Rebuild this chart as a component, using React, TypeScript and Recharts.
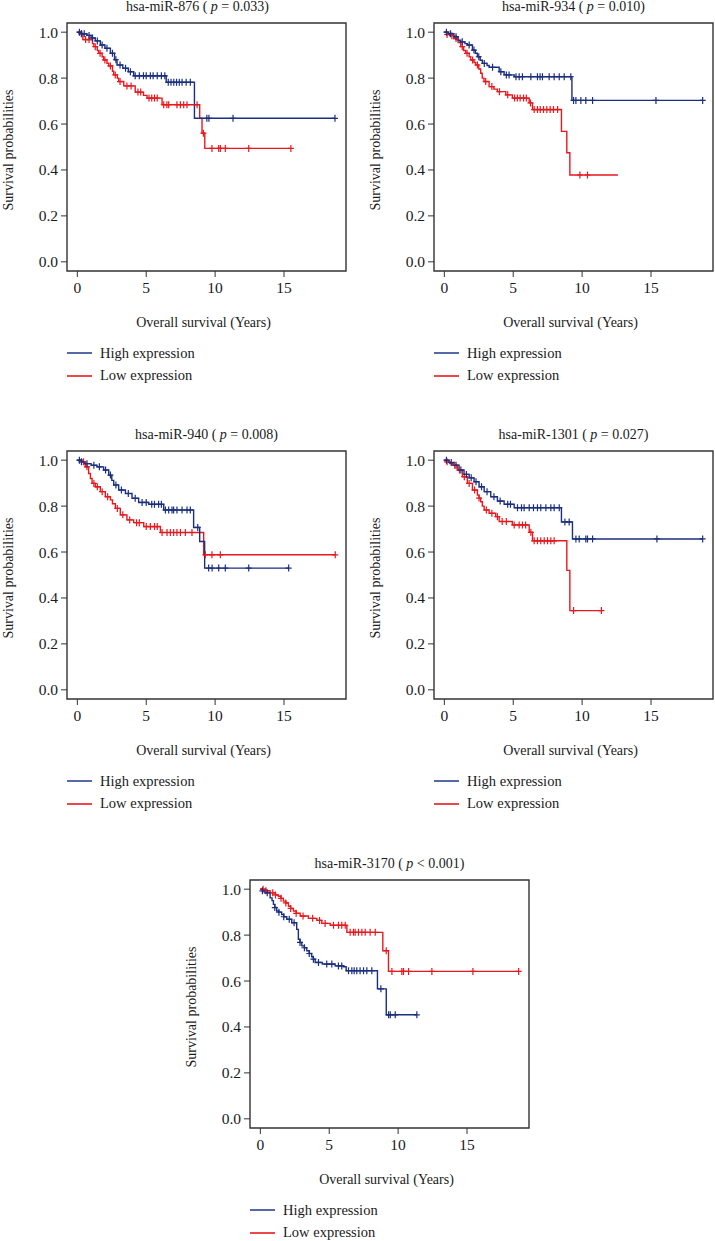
import React from 'react';
import { LineChart, Line, XAxis, YAxis, ReferenceArea } from 'recharts';

// [time (years), survival, censored?]
type Pt = [number, number, number?];

const X_TICKS = [0, 5, 10, 15];
const Y_TICKS = [0, 0.2, 0.4, 0.6, 0.8, 1.0];
const X_DOMAIN: [number, number] = [-0.75, 19.5];
const Y_DOMAIN: [number, number] = [-0.04, 1.04];

const HIGH_COLOR = '#1b2f80';
const LOW_COLOR = '#e8191e';

const mir876High: Pt[] = [
  [0, 1], [0.15, 1, 1], [0.3, 0.993, 1], [0.5, 0.993, 1], [0.7, 0.986], [0.85, 0.986, 1], [1.0, 0.975], [1.1, 0.975, 1],
  [1.3, 0.962], [1.45, 0.962, 1], [1.67, 0.944], [1.8, 0.944, 1], [2.0, 0.93], [2.15, 0.93, 1], [2.4, 0.908], [2.55, 0.908, 1],
  [2.7, 0.88], [2.8, 0.88, 1], [2.88, 0.857], [3.1, 0.857, 1], [3.3, 0.843], [3.5, 0.843, 1], [3.7, 0.828], [3.85, 0.828, 1],
  [4.09, 0.81], [4.2, 0.81, 1], [4.5, 0.81, 1], [4.8, 0.81, 1], [5.0, 0.81, 1], [5.3, 0.81, 1], [5.5, 0.81, 1], [5.8, 0.81, 1],
  [6.1, 0.81, 1], [6.35, 0.81, 1], [6.45, 0.782], [6.6, 0.782, 1], [6.8, 0.782, 1], [7.0, 0.782, 1], [7.2, 0.782, 1],
  [7.4, 0.782, 1], [7.6, 0.782, 1], [7.9, 0.782, 1], [8.2, 0.782, 1], [8.5, 0.625], [9.4, 0.625, 1], [9.55, 0.625, 1],
  [11.3, 0.625, 1], [18.7, 0.625, 1],
];
const mir876Low: Pt[] = [
  [0, 1], [0.22, 0.994], [0.3, 0.994, 1], [0.4, 0.968], [0.6, 0.968, 1], [0.85, 0.968, 1], [1.1, 0.95], [1.2, 0.937],
  [1.3, 0.937, 1], [1.45, 0.92], [1.55, 0.908], [1.65, 0.908, 1], [1.8, 0.893], [1.91, 0.879], [2.0, 0.879, 1], [2.15, 0.865],
  [2.28, 0.853], [2.4, 0.853, 1], [2.55, 0.83], [2.64, 0.814], [2.75, 0.814, 1], [2.9, 0.8], [3.0, 0.785], [3.1, 0.785, 1],
  [3.37, 0.766], [3.6, 0.766, 1], [3.9, 0.766, 1], [4.2, 0.739], [4.4, 0.739, 1], [4.6, 0.739, 1], [4.8, 0.725], [5.06, 0.713],
  [5.2, 0.713, 1], [5.4, 0.713, 1], [5.6, 0.713, 1], [5.8, 0.713, 1], [6.15, 0.684], [6.27, 0.684, 1], [6.5, 0.684, 1],
  [6.63, 0.684, 1], [7.23, 0.684, 1], [7.48, 0.684, 1], [7.72, 0.684, 1], [7.96, 0.684, 1], [8.69, 0.684, 1], [8.88, 0.625],
  [9.05, 0.56], [9.15, 0.56, 1], [9.25, 0.494], [9.77, 0.494, 1], [10.26, 0.494, 1], [10.38, 0.494, 1], [10.74, 0.494, 1],
  [12.44, 0.494, 1], [15.5, 0.494, 1],
];

const mir934High: Pt[] = [
  [0, 1], [0.15, 1, 1], [0.3, 0.993], [0.45, 0.993, 1], [0.7, 0.98], [0.85, 0.98, 1], [1.0, 0.965], [1.19, 0.958],
  [1.3, 0.958, 1], [1.5, 0.95], [1.67, 0.944], [1.8, 0.944, 1], [2.04, 0.922], [2.15, 0.922, 1], [2.25, 0.908], [2.4, 0.893],
  [2.5, 0.893, 1], [2.6, 0.878], [2.76, 0.864], [2.9, 0.864, 1], [3.1, 0.855], [3.25, 0.847], [3.5, 0.847, 1], [3.98, 0.828],
  [4.1, 0.828, 1], [4.34, 0.814], [4.5, 0.814, 1], [4.7, 0.814, 1], [5.07, 0.806], [5.2, 0.806, 1], [5.43, 0.806, 1],
  [5.67, 0.806, 1], [6.28, 0.806, 1], [6.76, 0.806, 1], [6.95, 0.806, 1], [7.12, 0.806, 1], [7.61, 0.806, 1], [7.97, 0.806, 1],
  [8.34, 0.806, 1], [8.7, 0.806, 1], [9.18, 0.806, 1], [9.26, 0.703], [9.38, 0.703, 1], [9.55, 0.703, 1], [9.91, 0.703, 1],
  [10.27, 0.703, 1], [10.76, 0.703, 1], [15.36, 0.703, 1], [18.75, 0.703, 1],
];
const mir934Low: Pt[] = [
  [0, 1], [0.2, 0.99, 1], [0.4, 0.985], [0.55, 0.985, 1], [0.7, 0.972], [0.85, 0.972, 1], [1.0, 0.955], [1.19, 0.937],
  [1.3, 0.937, 1], [1.4, 0.92], [1.55, 0.908], [1.65, 0.908, 1], [1.8, 0.893], [1.92, 0.879], [2.05, 0.879, 1], [2.15, 0.868],
  [2.28, 0.857], [2.4, 0.857, 1], [2.5, 0.84], [2.64, 0.821], [2.75, 0.8], [2.88, 0.785], [3.0, 0.785, 1], [3.25, 0.763],
  [3.45, 0.763, 1], [3.6, 0.752], [3.85, 0.741], [4.0, 0.741, 1], [4.46, 0.727], [4.6, 0.727, 1], [4.94, 0.713],
  [5.1, 0.713, 1], [5.3, 0.713, 1], [5.5, 0.713, 1], [5.75, 0.713, 1], [5.95, 0.713, 1], [6.16, 0.692], [6.25, 0.692, 1],
  [6.4, 0.663], [6.52, 0.663, 1], [6.76, 0.663, 1], [6.96, 0.663, 1], [7.2, 0.663, 1], [7.44, 0.663, 1], [7.68, 0.663, 1],
  [7.92, 0.663, 1], [8.22, 0.663, 1], [8.5, 0.568], [8.89, 0.475], [9.11, 0.378], [9.84, 0.378, 1], [10.39, 0.378, 1],
  [12.6, 0.378],
];

const mir940High: Pt[] = [
  [0, 1], [0.15, 1, 1], [0.3, 0.993, 1], [0.5, 0.985], [0.7, 0.985, 1], [1.0, 0.978], [1.2, 0.978, 1], [1.43, 0.971],
  [1.6, 0.971, 1], [1.91, 0.957], [2.05, 0.957, 1], [2.28, 0.935], [2.4, 0.935, 1], [2.5, 0.912], [2.64, 0.892],
  [2.8, 0.892, 1], [3.0, 0.87], [3.2, 0.87, 1], [3.49, 0.855], [3.7, 0.855, 1], [3.97, 0.834], [4.2, 0.834, 1], [4.45, 0.816],
  [4.7, 0.816, 1], [5.0, 0.816, 1], [5.18, 0.808], [5.4, 0.808, 1], [5.6, 0.808, 1], [5.9, 0.808, 1], [6.1, 0.808, 1],
  [6.27, 0.783], [6.39, 0.783, 1], [6.63, 0.783, 1], [6.87, 0.783, 1], [6.99, 0.783, 1], [7.23, 0.783, 1], [7.6, 0.783, 1],
  [7.96, 0.783, 1], [8.2, 0.783, 1], [8.44, 0.707], [8.74, 0.707, 1], [8.88, 0.646], [9.24, 0.53], [9.53, 0.53, 1],
  [9.78, 0.53, 1], [10.26, 0.53, 1], [10.74, 0.53, 1], [12.44, 0.53, 1], [15.34, 0.53, 1],
];
const mir940Low: Pt[] = [
  [0, 1], [0.34, 0.993], [0.45, 0.993, 1], [0.58, 0.971], [0.7, 0.971, 1], [0.82, 0.942], [0.95, 0.92], [1.07, 0.899],
  [1.2, 0.899, 1], [1.31, 0.884], [1.45, 0.884, 1], [1.67, 0.863], [1.8, 0.863, 1], [2.03, 0.841], [2.2, 0.841, 1],
  [2.4, 0.827], [2.55, 0.81], [2.76, 0.79], [2.9, 0.79, 1], [3.12, 0.762], [3.3, 0.762, 1], [3.6, 0.74], [3.8, 0.74, 1],
  [4.09, 0.728], [4.3, 0.728, 1], [4.5, 0.728, 1], [4.82, 0.711], [5.0, 0.711, 1], [5.3, 0.711, 1], [5.6, 0.711, 1],
  [5.8, 0.711, 1], [6.03, 0.685], [6.15, 0.685, 1], [6.51, 0.685, 1], [6.75, 0.685, 1], [6.99, 0.685, 1], [7.23, 0.685, 1],
  [7.48, 0.685, 1], [7.84, 0.685, 1], [8.32, 0.685, 1], [9.17, 0.588], [9.29, 0.588, 1], [9.77, 0.588, 1],
  [10.38, 0.588, 1], [18.72, 0.588, 1],
];

const mir1301High: Pt[] = [
  [0, 1], [0.15, 1, 1], [0.35, 0.99], [0.5, 0.99, 1], [0.7, 0.978], [0.85, 0.978, 1], [1.07, 0.957], [1.2, 0.957, 1],
  [1.43, 0.938], [1.6, 0.938, 1], [1.8, 0.923], [1.95, 0.923, 1], [2.16, 0.906], [2.3, 0.906, 1], [2.52, 0.884],
  [2.7, 0.884, 1], [2.89, 0.863], [3.1, 0.863, 1], [3.37, 0.841], [3.6, 0.841, 1], [3.85, 0.822], [4.05, 0.822, 1],
  [4.34, 0.808], [4.6, 0.808, 1], [4.8, 0.808, 1], [5.07, 0.793], [5.31, 0.793, 1], [5.6, 0.793, 1], [5.79, 0.793, 1],
  [6.16, 0.793, 1], [6.47, 0.793, 1], [6.76, 0.793, 1], [7.0, 0.793, 1], [7.37, 0.793, 1], [7.73, 0.793, 1],
  [7.97, 0.793, 1], [8.34, 0.793, 1], [8.5, 0.731], [8.75, 0.731, 1], [9.06, 0.731, 1], [9.3, 0.657], [9.55, 0.657, 1],
  [9.79, 0.657, 1], [10.27, 0.657, 1], [10.39, 0.657, 1], [10.76, 0.657, 1], [15.43, 0.657, 1], [18.75, 0.657, 1],
];
const mir1301Low: Pt[] = [
  [0, 1], [0.2, 0.993, 1], [0.4, 0.985], [0.58, 0.978], [0.75, 0.978, 1], [0.95, 0.957], [1.1, 0.957, 1], [1.31, 0.928],
  [1.45, 0.928, 1], [1.67, 0.899], [1.8, 0.899, 1], [2.04, 0.87], [2.2, 0.87, 1], [2.4, 0.848], [2.52, 0.835, 1],
  [2.64, 0.819], [2.76, 0.8], [2.89, 0.783], [3.05, 0.783, 1], [3.25, 0.769], [3.45, 0.769, 1], [3.73, 0.754],
  [3.85, 0.754, 1], [3.98, 0.733], [4.2, 0.733, 1], [4.5, 0.733, 1], [4.94, 0.718], [5.07, 0.718, 1], [5.43, 0.718, 1],
  [5.67, 0.718, 1], [5.9, 0.718, 1], [6.16, 0.686], [6.28, 0.686, 1], [6.4, 0.649], [6.52, 0.649, 1], [6.76, 0.649, 1],
  [7.0, 0.649, 1], [7.25, 0.649, 1], [7.49, 0.649, 1], [7.73, 0.649, 1], [7.97, 0.649, 1], [8.89, 0.52], [9.11, 0.345],
  [9.38, 0.345, 1], [11.4, 0.345, 1],
];

const mir3170High: Pt[] = [
  [0, 1], [0.15, 0.993, 1], [0.34, 0.984], [0.5, 0.984, 1], [0.71, 0.962], [0.85, 0.95], [0.95, 0.934], [1.05, 0.92, 1],
  [1.19, 0.905], [1.35, 0.9, 1], [1.55, 0.89], [1.7, 0.88, 1], [1.92, 0.869], [2.1, 0.869, 1], [2.28, 0.854],
  [2.45, 0.854, 1], [2.64, 0.825], [2.76, 0.782], [2.88, 0.768, 1], [3.01, 0.753], [3.2, 0.745, 1], [3.37, 0.732],
  [3.55, 0.72, 1], [3.73, 0.706], [3.85, 0.695, 1], [3.98, 0.681], [4.22, 0.681, 1], [4.5, 0.674], [4.82, 0.674, 1],
  [5.19, 0.674, 1], [5.43, 0.666], [5.67, 0.666, 1], [5.91, 0.666, 1], [6.03, 0.662], [6.23, 0.645], [6.4, 0.645, 1],
  [6.64, 0.645, 1], [6.81, 0.645, 1], [7.0, 0.645, 1], [7.24, 0.645, 1], [7.49, 0.645, 1], [7.73, 0.645, 1],
  [8.09, 0.645, 1], [8.5, 0.566], [8.75, 0.566, 1], [9.14, 0.453], [9.31, 0.453, 1], [9.43, 0.453, 1], [9.79, 0.453, 1],
  [11.36, 0.453, 1],
];
const mir3170Low: Pt[] = [
  [0, 1], [0.2, 1, 1], [0.4, 0.993, 1], [0.71, 0.984], [0.9, 0.984, 1], [1.1, 0.975, 1], [1.31, 0.969], [1.5, 0.96, 1],
  [1.67, 0.948], [1.85, 0.94, 1], [2.04, 0.926], [2.2, 0.916, 1], [2.4, 0.905], [2.6, 0.895, 1], [2.89, 0.883],
  [3.1, 0.883, 1], [3.49, 0.873], [3.8, 0.873, 1], [4.1, 0.864], [4.3, 0.864, 1], [4.46, 0.851], [4.7, 0.851, 1],
  [5.07, 0.843], [5.31, 0.843, 1], [5.67, 0.843, 1], [5.91, 0.843, 1], [6.16, 0.843, 1], [6.28, 0.812], [6.52, 0.812, 1],
  [6.76, 0.812, 1], [6.88, 0.812, 1], [7.12, 0.812, 1], [7.37, 0.812, 1], [7.61, 0.812, 1], [7.97, 0.812, 1],
  [8.34, 0.812, 1], [8.89, 0.732], [9.14, 0.732, 1], [9.3, 0.642], [9.55, 0.642, 1], [10.27, 0.642, 1], [10.39, 0.642, 1],
  [10.76, 0.642, 1], [12.45, 0.642, 1], [15.43, 0.642, 1], [18.75, 0.642, 1],
];

const FONT = '"Liberation Serif", "DejaVu Serif", serif';
const TEXT = '#1a1a1a';

const toRows = (pts: Pt[]) => pts.map(([t, s, c]) => ({ t, s, c: c ? 1 : 0 }));

const censorDot = (color: string) => (props: any) => {
  const { cx, cy, payload, index } = props;
  if (!payload || !payload.c) return <g key={`n-${index}`} />;
  return (
    <path
      key={`c-${index}`}
      d={`M${cx},${cy - 3.5}V${cy + 3.5}M${cx - 3},${cy}H${cx + 3}`}
      stroke={color}
      strokeWidth={1.2}
      fill="none"
    />
  );
};

const W = 350;
const H = 335;
const FRAME_L = 67;
const FRAME_T = 23;
const FRAME_W = 279;
const FRAME_H = 248;

const YLabel = (props: any) => {
  const { viewBox } = props;
  const cx = 8;
  const cy = viewBox.y + viewBox.height / 2 + 3;
  return (
    <text x={cx} y={cy} transform={`rotate(-90, ${cx}, ${cy})`} textAnchor="middle" dominantBaseline="central"
      fontFamily={FONT} fontSize={14} fill={TEXT}>Survival probabilities</text>
  );
};

const XLabel = (props: any) => {
  const { viewBox } = props;
  return (
    <text x={viewBox.x + viewBox.width / 2 - 3} y={viewBox.y + 51} textAnchor="middle" dominantBaseline="central"
      fontFamily={FONT} fontSize={14} fill={TEXT}>Overall survival (Years)</text>
  );
};

const LEGEND = [
  { label: 'High expression', color: '#2a4592', dy: 330 },
  { label: 'Low expression', color: LOW_COLOR, dy: 352.5 },
];

interface PanelProps {
  left: number;
  top: number;
  mir: string;
  pText: string;
  high: Pt[];
  low: Pt[];
  titleShift?: number;
}

const KMPanel: React.FC<PanelProps> = ({ left, top, mir, pText, high, low, titleShift = 0 }) => (
  <div style={{ position: 'absolute', left, top, width: W, height: 390 }}>
    <div style={{ position: 'absolute', left: FRAME_L + FRAME_W / 2 - 150 + titleShift, top: -2, width: 300, textAlign: 'center',
      fontFamily: FONT, fontSize: 14, color: TEXT, whiteSpace: 'nowrap', lineHeight: '18px' }}>
      {mir} ( <i>p</i> {pText})
    </div>
    <LineChart width={W} height={H} margin={{ top: FRAME_T, right: W - FRAME_L - FRAME_W, bottom: 0, left: 0 }}>
      <XAxis type="number" dataKey="t" domain={X_DOMAIN} ticks={X_TICKS} allowDataOverflow axisLine={false}
        tickSize={6} tickMargin={5} height={H - FRAME_T - FRAME_H} stroke="#333"
        tick={{ fontFamily: FONT, fontSize: 15.5, fill: TEXT }} label={<XLabel />} />
      <YAxis type="number" domain={Y_DOMAIN} ticks={Y_TICKS} allowDataOverflow axisLine={false} width={FRAME_L}
        tickSize={6} tickMargin={3} stroke="#333" tickFormatter={(v: number) => v.toFixed(1)}
        tick={{ fontFamily: FONT, fontSize: 15.5, fill: TEXT }} label={<YLabel />} />
      <ReferenceArea x1={X_DOMAIN[0]} x2={X_DOMAIN[1]} y1={Y_DOMAIN[0]} y2={Y_DOMAIN[1]} fill="none"
        stroke="#333" strokeWidth={1.4} ifOverflow="visible" />
      <Line data={toRows(low)} dataKey="s" type="stepAfter" stroke={LOW_COLOR} strokeWidth={1.4}
        dot={censorDot(LOW_COLOR)} activeDot={false} isAnimationActive={false} name="Low expression" />
      <Line data={toRows(high)} dataKey="s" type="stepAfter" stroke={HIGH_COLOR} strokeWidth={1.4}
        dot={censorDot(HIGH_COLOR)} activeDot={false} isAnimationActive={false} name="High expression" />
    </LineChart>
    {LEGEND.map((it) => (
      <div key={it.label} style={{ position: 'absolute', left: FRAME_L, top: FRAME_T + it.dy - 9, height: 18,
        display: 'flex', alignItems: 'center', fontFamily: FONT, fontSize: 14.5, color: TEXT, whiteSpace: 'nowrap' }}>
        <svg width={25} height={4} style={{ marginRight: 8, display: 'block' }}>
          <line x1={0} y1={2} x2={25} y2={2} stroke={it.color} strokeWidth={1.6} />
        </svg>
        {it.label}
      </div>
    ))}
  </div>
);

export default function App() {
  return (
    <div style={{ position: 'absolute', left: 0, top: 0, width: 715, height: 1241, background: '#fff', overflow: 'hidden' }}>
      <KMPanel left={0} top={0} mir="hsa-miR-876" pText="= 0.033" high={mir876High} low={mir876Low} titleShift={-9} />
      <KMPanel left={367} top={0} mir="hsa-miR-934" pText="= 0.010" high={mir934High} low={mir934Low} />
      <KMPanel left={0} top={428} mir="hsa-miR-940" pText="= 0.008" high={mir940High} low={mir940Low} />
      <KMPanel left={367} top={428} mir="hsa-miR-1301" pText="= 0.027" high={mir1301High} low={mir1301Low} />
      <KMPanel left={183} top={857} mir="hsa-miR-3170" pText="< 0.001" high={mir3170High} low={mir3170Low} />
    </div>
  );
}
